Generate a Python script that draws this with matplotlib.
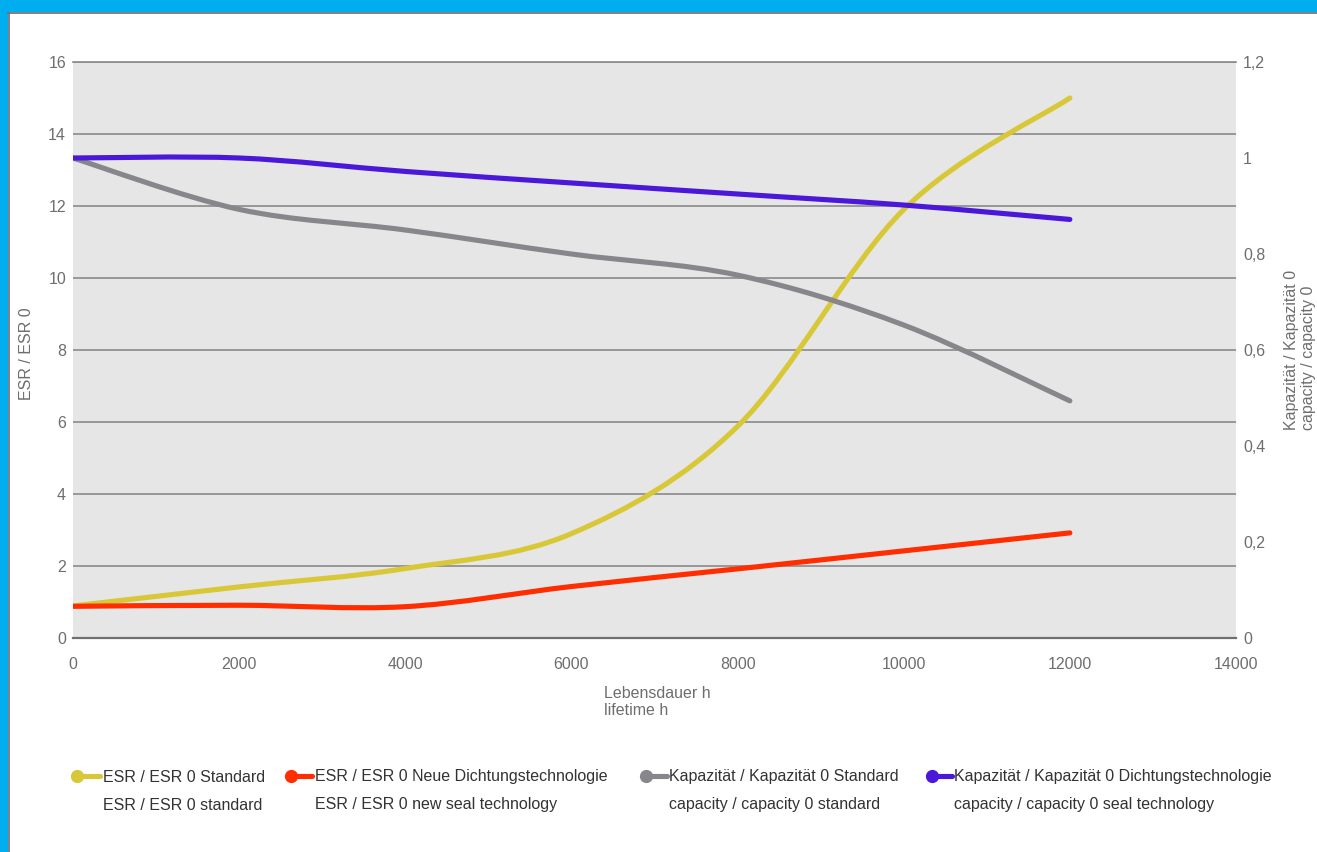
import numpy as np
import matplotlib
matplotlib.use("Agg")
import matplotlib.pyplot as plt
from matplotlib.path import Path
from matplotlib.patches import PathPatch, Rectangle
from matplotlib.lines import Line2D

plt.rcParams['font.family'] = ['Liberation Sans', 'DejaVu Sans']

# ---------------- data ----------------
hours = [0, 2000, 4000, 6000, 8000, 10000, 12000]
esr_standard = [0.89, 1.42, 1.93, 2.90, 5.88, 11.9, 15.0]
esr_new_seal = [0.88, 0.91, 0.87, 1.43, 1.92, 2.42, 2.92]
cap_standard = [1.0, 0.893, 0.850, 0.800, 0.756, 0.652, 0.494]
cap_seal = [1.0, 1.0, 0.972, 0.948, 0.925, 0.902, 0.872]

x_ticks = [0, 2000, 4000, 6000, 8000, 10000, 12000, 14000]
left_ticks = [0, 2, 4, 6, 8, 10, 12, 14, 16]
right_ticks = [0, 0.2, 0.4, 0.6, 0.8, 1.0, 1.2]
right_tick_labels = ['0', '0,2', '0,4', '0,6', '0,8', '1', '1,2']

legend_de = ['ESR / ESR 0 Standard', 'ESR / ESR 0 Neue Dichtungstechnologie',
             'Kapazität / Kapazität 0 Standard',
             'Kapazität / Kapazität 0 Dichtungstechnologie']
legend_en = ['ESR / ESR 0 standard', 'ESR / ESR 0 new seal technology',
             'capacity / capacity 0 standard',
             'capacity / capacity 0 seal technology']

colors = ['#D8C837', '#FF2D00', '#87878B', '#4B17D8']

W, H = 1317, 852


def smooth_path(x, y):
    """Excel-like smoothed line (Catmull-Rom as cubic Bezier)."""
    pts = np.column_stack([x, y]).astype(float)
    n = len(pts)
    verts = [pts[0]]
    codes = [Path.MOVETO]
    for i in range(n - 1):
        p0 = pts[i - 1] if i > 0 else pts[i]
        p1 = pts[i]
        p2 = pts[i + 1]
        p3 = pts[i + 2] if i + 2 < n else pts[i + 1]
        c1 = p1 + (p2 - p0) / 6.0
        c2 = p2 - (p3 - p1) / 6.0
        verts += [c1, c2, p2]
        codes += [Path.CURVE4] * 3
    return Path(verts, codes)


fig = plt.figure(figsize=(W / 100, H / 100), dpi=100)
fig.patch.set_facecolor('white')

# frame
fig.add_artist(Rectangle((0, 1 - 12 / H), 1, 12 / H, transform=fig.transFigure,
                         facecolor='#00AEEF', edgecolor='none'))
fig.add_artist(Rectangle((0, 0), 8 / W, 1, transform=fig.transFigure,
                         facecolor='#00AEEF', edgecolor='none'))
fig.add_artist(Line2D([8 / W, 1], [1 - 12.8 / H, 1 - 12.8 / H], transform=fig.transFigure,
                      color='#6a6a6a', lw=1.2))
fig.add_artist(Line2D([8.8 / W, 8.8 / W], [0, 1 - 12.8 / H], transform=fig.transFigure,
                      color='#6a6a6a', lw=1.2))

L, R, T, B = 73, 1236, 62, 638
ax = fig.add_axes([L / W, 1 - B / H, (R - L) / W, (B - T) / H])
ax.set_facecolor('#E6E6E6')
ax.set_xlim(0, 14000)
ax.set_ylim(0, 16)
ax.set_xticks(x_ticks)
ax.set_xticklabels([str(v) for v in x_ticks])
ax.set_yticks(left_ticks)
ax.set_yticklabels([str(v) for v in left_ticks])
ax.grid(axis='y', color='#8a8a8a', lw=1.2)
ax.grid(axis='x', visible=False)
ax.set_axisbelow(True)
for s in ['left', 'right']:
    ax.spines[s].set_visible(False)
ax.spines['top'].set_color('#8a8a8a')
ax.spines['top'].set_linewidth(1.2)
ax.spines['bottom'].set_color('#707070')
ax.spines['bottom'].set_linewidth(1.6)
ax.tick_params(axis='x', length=0, labelsize=11.5, labelcolor='#6e6e6e', pad=14)
ax.tick_params(axis='y', length=0, labelsize=11.5, labelcolor='#6e6e6e', pad=5)

ax2 = ax.twinx()
ax2.set_ylim(0, 1.2)
ax2.set_yticks(right_ticks)
ax2.set_yticklabels(right_tick_labels)
ax2.patch.set_visible(False)
for s in ax2.spines.values():
    s.set_visible(False)
ax2.tick_params(axis='y', length=0, labelsize=11.5, labelcolor='#6e6e6e', pad=5)

lw = 3.7
for axis, ys, c in [(ax, esr_standard, colors[0]), (ax, esr_new_seal, colors[1]),
                    (ax2, cap_standard, colors[2]), (ax2, cap_seal, colors[3])]:
    patch = PathPatch(smooth_path(hours, ys), facecolor='none', edgecolor=c, lw=lw,
                      capstyle='round', joinstyle='round', transform=axis.transData)
    axis.add_patch(patch)

# axis titles
fig.text(27 / W, 1 - 354 / H, 'ESR / ESR 0', rotation=90, ha='center', va='center',
         fontsize=11.5, color='#6e6e6e')
fig.text(1284 / W, 1 - 350 / H, 'Kapazität / Kapazität 0\ncapacity / capacity 0',
         rotation=90, ha='left', va='center', multialignment='left',
         fontsize=11.5, color='#6e6e6e', linespacing=1.15)
fig.text(604 / W, 1 - 686 / H, 'Lebensdauer h\nlifetime h', ha='left', va='top',
         fontsize=11.5, color='#6e6e6e', linespacing=1.2)

# legend
key_circle = [77, 291, 646, 932]
key_end = [100, 312, 667, 952]
text_x = [103, 315, 669, 954]
y1, y2 = 776, 805
for i in range(4):
    fig.add_artist(Line2D([key_circle[i] / W, key_end[i] / W], [1 - y1 / H, 1 - y1 / H],
                          transform=fig.transFigure, color=colors[i], lw=lw,
                          solid_capstyle='round', marker='o', markersize=8.5,
                          markevery=[0]))
    fig.text(text_x[i] / W, 1 - (y1 + 1) / H, legend_de[i], ha='left', va='center',
             fontsize=11.5, color='#333333')
    fig.text(text_x[i] / W, 1 - y2 / H, legend_en[i], ha='left', va='center',
             fontsize=11.5, color='#333333')

fig.savefig('out.png', dpi=100)
